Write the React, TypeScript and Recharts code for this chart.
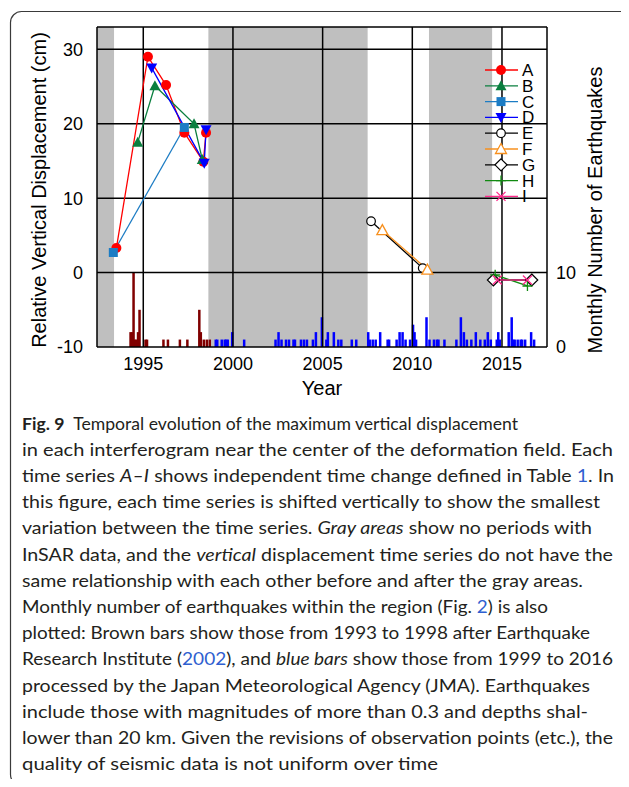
import {
  Bar,
  ComposedChart,
  Label,
  Legend,
  Line,
  ReferenceArea,
  ReferenceLine,
  XAxis,
  YAxis,
} from "recharts";

const FONT = "'Liberation Sans', Arial, sans-serif";

const yearTicks = [1995, 2000, 2005, 2010, 2015];
const dispTicks = [-10, 0, 10, 20, 30];
const quakeTicks = [0, 10];

// periods without InSAR data
const grayStart = [1992.42, 1998.63, 2010.93];
const grayEnd = [1993.37, 2007.51, 2014.45];

// InSAR time series A–I (decimal year, cm)
const aYear = [1993.5, 1995.26, 1996.27, 1997.29, 1998.35, 1998.5];
const aDisp = [3.3, 29.0, 25.2, 18.8, 14.9, 18.8];
const bYear = [1994.69, 1995.65, 1997.83, 1998.29];
const bDisp = [17.5, 25.1, 20.0, 15.2];
const cYear = [1993.33, 1997.29];
const cDisp = [2.7, 19.5];
const dYear = [1995.47, 1998.4, 1998.5];
const dDisp = [27.5, 14.7, 19.2];
const eYear = [2007.7, 2010.58];
const eDisp = [6.9, 0.6];
const fYear = [2008.33, 2010.84];
const fDisp = [5.7, 0.4];
const gYear = [2014.52, 2016.66];
const gDisp = [-1.0, -1.0];
const hYear = [2014.62, 2016.42];
const hDisp = [-0.3, -1.8];
const iYear = [2014.74, 2016.42];
const iDisp = [-1.0, -1.0];

// monthly earthquake counts: ERI (1993–1998), JMA (1999–2016)
const eriMonth = [
  "1994-04", "1994-05", "1994-06", "1994-07", "1994-08", "1994-09", "1994-10",
  "1995-02", "1995-03", "1996-02", "1996-05", "1997-01", "1997-06",
  "1998-02", "1998-03", "1998-05", "1998-07", "1998-09",
];
const eriCount = [2, 2, 10, 1, 1, 2, 5, 1, 1, 1, 1, 1, 1, 5, 2, 1, 1, 1];

const jmaMonth = [
  "1999-01", "1999-02", "1999-05", "1999-07", "1999-08", "1999-09", "1999-12",
  "2000-08",
  "2002-05", "2002-07", "2002-09", "2002-12",
  "2003-02", "2003-05", "2003-06", "2003-10", "2003-12",
  "2004-02", "2004-06", "2004-08", "2004-12",
  "2005-03", "2005-04", "2005-08", "2005-11",
  "2006-01", "2006-08", "2006-11",
  "2007-07", "2007-08", "2007-10", "2007-12",
  "2008-03", "2008-08", "2008-09",
  "2009-02", "2009-04", "2009-06", "2009-08", "2009-11",
  "2010-01", "2010-02", "2010-03", "2010-10", "2010-12",
  "2011-03", "2011-05", "2011-06", "2011-10",
  "2012-06", "2012-09", "2012-11",
  "2013-01", "2013-04", "2013-07", "2013-10",
  "2014-01", "2014-03", "2014-05", "2014-09", "2014-10", "2014-11",
  "2015-05", "2015-07", "2015-08", "2015-09", "2015-11",
  "2016-01", "2016-02", "2016-04", "2016-08", "2016-10",
];
const jmaCount = [
  1, 1, 1, 1, 1, 1, 2,
  1,
  1, 2, 1, 1,
  1, 1, 1, 1, 1,
  1, 1, 2, 4,
  1, 2, 2, 1,
  1, 1, 1,
  2, 1, 1, 1,
  2, 1, 1,
  1, 2, 2, 1, 1,
  3, 2, 1, 4, 1,
  1, 1, 1, 1,
  1, 4, 2,
  1, 1, 2, 1,
  1, 2, 1, 1, 2, 1,
  2, 4, 1, 1, 1,
  1, 1, 1, 2, 1,
];

const toYear = (m: string) => {
  const [y, mo] = m.split("-").map(Number);
  return y + (mo - 0.5) / 12;
};

const quakeRows = [
  ...eriMonth.map((m, i) => ({ t: toYear(m), eri: eriCount[i], jma: 0 })),
  ...jmaMonth.map((m, i) => ({ t: toYear(m), eri: 0, jma: jmaCount[i] })),
].sort((p, q) => p.t - q.t);

type Shape =
  | "circle"
  | "triUp"
  | "square"
  | "triDown"
  | "openCircle"
  | "openTri"
  | "diamond"
  | "plus"
  | "cross";

const series: { name: string; color: string; shape: Shape; year: number[]; disp: number[] }[] = [
  { name: "A", color: "#FF0000", shape: "circle", year: aYear, disp: aDisp },
  { name: "B", color: "#0A7F3F", shape: "triUp", year: bYear, disp: bDisp },
  { name: "C", color: "#1C7CC4", shape: "square", year: cYear, disp: cDisp },
  { name: "D", color: "#0000FF", shape: "triDown", year: dYear, disp: dDisp },
  { name: "E", color: "#000000", shape: "openCircle", year: eYear, disp: eDisp },
  { name: "F", color: "#F7901E", shape: "openTri", year: fYear, disp: fDisp },
  { name: "G", color: "#000000", shape: "diamond", year: gYear, disp: gDisp },
  { name: "H", color: "#118A11", shape: "plus", year: hYear, disp: hDisp },
  { name: "I", color: "#FF2A8C", shape: "cross", year: iYear, disp: iDisp },
];

function Marker({ cx, cy, shape, color }: { cx?: number; cy?: number; shape: Shape; color: string }) {
  if (cx == null || cy == null) return <g />;
  switch (shape) {
    case "circle":
      return <circle cx={cx} cy={cy} r={5} fill={color} />;
    case "triUp":
      return <path d={`M${cx},${cy - 5.5}L${cx + 5.5},${cy + 4.5}L${cx - 5.5},${cy + 4.5}Z`} fill={color} />;
    case "square":
      return <rect x={cx - 4.5} y={cy - 4.5} width={9} height={9} fill={color} />;
    case "triDown":
      return <path d={`M${cx},${cy + 5.5}L${cx + 5.5},${cy - 4.5}L${cx - 5.5},${cy - 4.5}Z`} fill={color} />;
    case "openCircle":
      return <circle cx={cx} cy={cy} r={4.3} fill="#fff" stroke={color} strokeWidth={1.2} />;
    case "openTri":
      return (
        <path
          d={`M${cx},${cy - 5.5}L${cx + 5.5},${cy + 4.5}L${cx - 5.5},${cy + 4.5}Z`}
          fill="#fff"
          stroke={color}
          strokeWidth={1.3}
        />
      );
    case "diamond":
      return (
        <path
          d={`M${cx},${cy - 6}L${cx + 6},${cy}L${cx},${cy + 6}L${cx - 6},${cy}Z`}
          fill="#fff"
          stroke={color}
          strokeWidth={1.2}
        />
      );
    case "plus":
      return <path d={`M${cx - 5},${cy}H${cx + 5}M${cx},${cy - 5}V${cy + 5}`} stroke={color} strokeWidth={1.3} />;
    case "cross":
      return (
        <path
          d={`M${cx - 4.5},${cy - 4.5}L${cx + 4.5},${cy + 4.5}M${cx - 4.5},${cy + 4.5}L${cx + 4.5},${cy - 4.5}`}
          stroke={color}
          strokeWidth={1.3}
        />
      );
  }
}

// monthly bars are narrower than a month band would allow, so draw them centred with a fixed width
const QuakeBar = (p: any) =>
  p.height > 0 ? (
    <rect x={p.x + p.width / 2 - 1.25} y={p.y} width={2.5} height={p.height} fill={p.fill} />
  ) : (
    <g />
  );

const renderLegend = () => (
  <svg width={70} height={150}>
    {series.map((s, i) => {
      const y = 10 + i * 15.8;
      return (
        <g key={s.name}>
          <line x1={5} x2={38} y1={y} y2={y} stroke={s.color} strokeWidth={1.3} />
          <Marker cx={21} cy={y} shape={s.shape} color={s.color} />
          <text x={42} y={y + 6} fontSize={17} fontFamily={FONT} fill="#000">
            {s.name}
          </text>
        </g>
      );
    })}
  </svg>
);

type Seg = { t: string; s?: "b" | "i" | "a" };
const caption: Seg[][] = [
  [{ t: "Fig. 9", s: "b" }, { t: "\u2002Temporal evolution of the maximum vertical displacement" }],
  [{ t: "in each interferogram near the center of the deformation field. Each" }],
  [
    { t: "time series " },
    { t: "A–I", s: "i" },
    { t: " shows independent time change defined in Table " },
    { t: "1", s: "a" },
    { t: ". In" },
  ],
  [{ t: "this figure, each time series is shifted vertically to show the smallest" }],
  [{ t: "variation between the time series. " }, { t: "Gray areas", s: "i" }, { t: " show no periods with" }],
  [{ t: "InSAR data, and the " }, { t: "vertical", s: "i" }, { t: " displacement time series do not have the" }],
  [{ t: "same relationship with each other before and after the gray areas." }],
  [{ t: "Monthly number of earthquakes within the region (Fig. " }, { t: "2", s: "a" }, { t: ") is also" }],
  [{ t: "plotted: Brown bars show those from 1993 to 1998 after Earthquake" }],
  [
    { t: "Research Institute (" },
    { t: "2002", s: "a" },
    { t: "), and " },
    { t: "blue bars", s: "i" },
    { t: " show those from 1999 to 2016" },
  ],
  [{ t: "processed by the Japan Meteorological Agency (JMA). Earthquakes" }],
  [{ t: "include those with magnitudes of more than 0.3 and depths shal-" }],
  [{ t: "lower than 20 km. Given the revisions of observation points (etc.), the" }],
  [{ t: "quality of seismic data is not uniform over time" }],
];
const captionEnd = [518, 613, 614, 600, 592, 613, 583, 548, 590, 613, 590, 588, 613, 438];

export default function App() {
  return (
    <div style={{ position: "relative", width: 629, height: 787, margin: -8, overflow: "hidden", background: "#fff" }}>
      <svg
        width={629}
        height={787}
        style={{ position: "absolute", left: 0, top: 0, pointerEvents: "none" }}
      >
        <rect x={10.5} y={11.5} width={700} height={774} rx={11} fill="none" stroke="#3a3a3a" strokeWidth={1.2} />
        {caption.map((line, k) => (
          <text
            key={k}
            x={22}
            y={429.5 + 26.2 * k}
            fontSize={17.5}
            fontFamily="Lato, 'Open Sans', sans-serif"
            fill="#231f20"
            textLength={captionEnd[k] - 22}
            lengthAdjust="spacingAndGlyphs"
            style={{ whiteSpace: "pre" }}
          >
            {line.map((seg, j) => (
              <tspan
                key={j}
                fontWeight={seg.s === "b" ? 700 : 400}
                fontStyle={seg.s === "i" ? "italic" : "normal"}
                fill={seg.s === "a" ? "#2f5fd0" : "#231f20"}
              >
                {seg.t}
              </tspan>
            ))}
          </text>
        ))}
      </svg>
      <div style={{ position: "absolute", left: 0, top: 0 }}>
        <ComposedChart
          width={629}
          height={400}
          data={quakeRows}
          margin={{ top: 27, right: 0, bottom: 0, left: 0 }}
        >
          <XAxis
            type="number"
            dataKey="t"
            domain={[1992.42, 2017.51]}
            allowDataOverflow
            ticks={yearTicks}
            height={53}
            tickSize={0}
            tickMargin={10}
            axisLine={{ stroke: "#000", strokeWidth: 1.5 }}
            tick={{ fill: "#000", fontSize: 18, fontFamily: FONT }}
          >
            <Label
              content={() => (
                <text x={322} y={395} textAnchor="middle" fontSize={20} fontFamily={FONT} fill="#000">
                  Year
                </text>
              )}
            />
          </XAxis>
          <YAxis
            yAxisId="left"
            type="number"
            domain={[-10, 33]}
            allowDataOverflow
            ticks={dispTicks}
            width={97}
            tickSize={0}
            tickMargin={14}
            axisLine={{ stroke: "#000", strokeWidth: 1.5 }}
            tick={{ fill: "#000", fontSize: 18, fontFamily: FONT }}
          >
            <Label
              content={() => (
                <text
                  x={46}
                  y={190}
                  transform="rotate(-90, 46, 190)"
                  textAnchor="middle"
                  fontSize={20}
                  fontFamily={FONT}
                  fill="#000"
                >
                  Relative Vertical Displacement (cm)
                </text>
              )}
            />
          </YAxis>
          <YAxis
            yAxisId="right"
            orientation="right"
            type="number"
            domain={[0, 43]}
            allowDataOverflow
            ticks={quakeTicks}
            width={82}
            tickSize={0}
            tickMargin={9}
            axisLine={{ stroke: "#000", strokeWidth: 1.5 }}
            tick={{ fill: "#000", fontSize: 18, fontFamily: FONT }}
          >
            <Label
              content={() => (
                <text
                  x={602}
                  y={210}
                  transform="rotate(-90, 602, 210)"
                  textAnchor="middle"
                  fontSize={20}
                  fontFamily={FONT}
                  fill="#000"
                >
                  Monthly Number of Earthquakes
                </text>
              )}
            />
          </YAxis>

          {grayStart.map((x1, i) => (
            <ReferenceArea
              key={`gray-${i}`}
              yAxisId="left"
              x1={x1}
              x2={grayEnd[i]}
              fill="#bfbfbf"
              fillOpacity={1}
              stroke="none"
            />
          ))}

          <Bar dataKey="eri" stackId="q" yAxisId="right" fill="#800000" shape={QuakeBar} isAnimationActive={false} />
          <Bar dataKey="jma" stackId="q" yAxisId="right" fill="#0000FF" shape={QuakeBar} isAnimationActive={false} />

          {yearTicks.map((y) => (
            <ReferenceLine key={`vx-${y}`} yAxisId="left" x={y} stroke="#000" strokeWidth={1.5} />
          ))}
          {dispTicks
            .filter((v) => v > -10)
            .map((v) => (
              <ReferenceLine key={`hy-${v}`} yAxisId="left" y={v} stroke="#000" strokeWidth={1.5} />
            ))}
          <ReferenceLine yAxisId="left" y={33} stroke="#000" strokeWidth={1.5} />

          {series.map((s) => (
            <Line
              key={s.name}
              yAxisId="left"
              data={s.year.map((t, i) => ({ t, v: s.disp[i] }))}
              dataKey="v"
              name={s.name}
              stroke={s.color}
              strokeWidth={1.3}
              isAnimationActive={false}
              activeDot={false}
              dot={(p: any) => (
                <Marker key={`${s.name}-${p.index}`} cx={p.cx} cy={p.cy} shape={s.shape} color={s.color} />
              )}
            />
          ))}

          <Legend
            layout="vertical"
            align="center"
            verticalAlign="middle"
            content={renderLegend}
            wrapperStyle={{ left: 480, top: 60, width: 70, height: 150 }}
          />
        </ComposedChart>
      </div>
    </div>
  );
}
